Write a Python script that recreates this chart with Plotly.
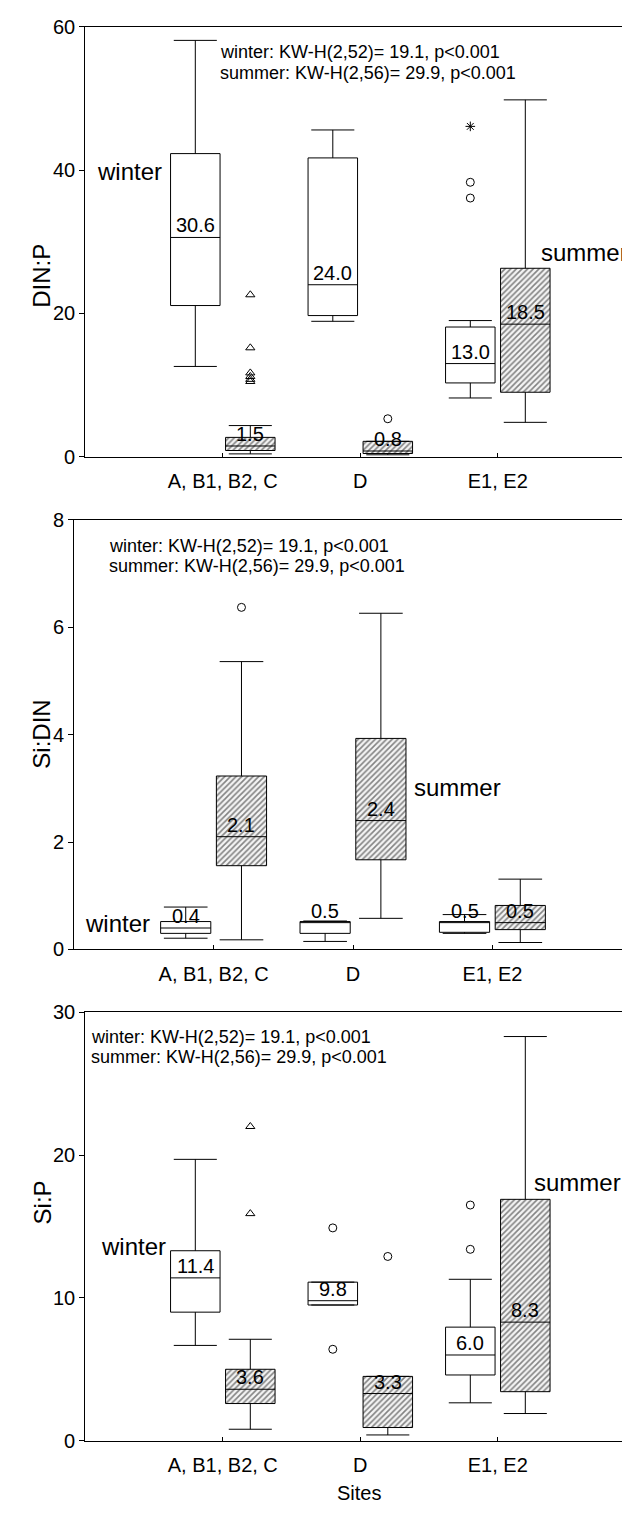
import plotly.graph_objects as go

FONT = "Arial, Liberation Sans, sans-serif"
W, H = 622, 1517

sites = ["A, B1, B2, C", "D", "E1, E2"]
site_pos = [1, 2, 3]

# ---- DIN:P ----
dinp_w_low = [12.6, 18.9, 8.2]
dinp_w_q1 = [21.1, 19.7, 10.3]
dinp_w_med = [30.6, 24.0, 13.0]
dinp_w_q3 = [42.3, 41.7, 18.1]
dinp_w_high = [58.1, 45.6, 19.0]
dinp_s_low = [0.4, 0.27, 4.8]
dinp_s_q1 = [0.87, 0.45, 9.0]
dinp_s_med = [1.5, 0.8, 18.5]
dinp_s_q3 = [2.7, 2.15, 26.3]
dinp_s_high = [4.35, 2.15, 49.8]
dinp_out_site = [1, 1, 1, 1, 1, 1, 2, 3, 3, 3]
dinp_out_season = ["summer"] * 7 + ["winter"] * 3
dinp_out_value = [22.6, 15.2, 11.7, 11.2, 10.8, 10.5, 5.3, 38.3, 36.1, 46.1]
dinp_out_kind = ["flag"] * 6 + ["outlier", "outlier", "outlier", "extreme"]

# ---- Si:DIN ----
sidin_w_low = [0.21, 0.15, 0.30]
sidin_w_q1 = [0.30, 0.30, 0.32]
sidin_w_med = [0.4, 0.5, 0.5]
sidin_w_q3 = [0.52, 0.52, 0.52]
sidin_w_high = [0.79, 0.53, 0.65]
sidin_s_low = [0.18, 0.58, 0.13]
sidin_s_q1 = [1.56, 1.67, 0.37]
sidin_s_med = [2.1, 2.4, 0.5]
sidin_s_q3 = [3.23, 3.93, 0.82]
sidin_s_high = [5.36, 6.26, 1.31]
sidin_out_site = [1]
sidin_out_season = ["summer"]
sidin_out_value = [6.37]
sidin_out_kind = ["outlier"]

# ---- Si:P ----
sip_w_low = [6.67, 9.5, 2.65]
sip_w_q1 = [9.0, 9.5, 4.6]
sip_w_med = [11.4, 9.8, 6.0]
sip_w_q3 = [13.3, 11.1, 7.95]
sip_w_high = [19.7, 11.1, 11.3]
sip_s_low = [0.8, 0.4, 1.9]
sip_s_q1 = [2.6, 0.92, 3.43]
sip_s_med = [3.6, 3.3, 8.3]
sip_s_q3 = [5.0, 4.5, 16.9]
sip_s_high = [7.1, 4.5, 28.3]
sip_out_site = [1, 1, 2, 2, 2, 3, 3]
sip_out_season = ["summer", "summer", "winter", "winter", "summer", "winter", "winter"]
sip_out_value = [22.0, 15.9, 14.9, 6.4, 12.9, 16.5, 13.4]
sip_out_kind = ["flag", "flag", "outlier", "outlier", "outlier", "outlier", "outlier"]

kw_winter = "winter: KW-H(2,52)= 19.1, p<0.001"
kw_summer = "summer: KW-H(2,56)= 29.9, p<0.001"

panels = [
    dict(title="DIN:P", yrange=[0, 60], dtick=20,
         w=(dinp_w_low, dinp_w_q1, dinp_w_med, dinp_w_q3, dinp_w_high),
         s=(dinp_s_low, dinp_s_q1, dinp_s_med, dinp_s_q3, dinp_s_high),
         out=(dinp_out_site, dinp_out_season, dinp_out_value, dinp_out_kind),
         left=85.3, step=137.5, top=16.0, bottom=452.3,
         winter_at=(0.325, 39.8), summer_at=(3.30, 28.5),
         kw_at=(0.965, 56.5, 53.6)),
    dict(title="Si:DIN", yrange=[0, 8], dtick=2,
         w=(sidin_w_low, sidin_w_q1, sidin_w_med, sidin_w_q3, sidin_w_high),
         s=(sidin_s_low, sidin_s_q1, sidin_s_med, sidin_s_q3, sidin_s_high),
         out=(sidin_out_site, sidin_out_season, sidin_out_value, sidin_out_kind),
         left=74.2, step=139.4, top=516.3, bottom=952.3,
         winter_at=(0.314, 0.49), summer_at=(2.42, 3.01),
         kw_at=(0.235, 7.51, 7.14)),
    dict(title="Si:P", yrange=[0, 30], dtick=10,
         w=(sip_w_low, sip_w_q1, sip_w_med, sip_w_q3, sip_w_high),
         s=(sip_s_low, sip_s_q1, sip_s_med, sip_s_q3, sip_s_high),
         out=(sip_out_site, sip_out_season, sip_out_value, sip_out_kind),
         left=85.3, step=137.5, top=1016.0, bottom=1450.7,
         winter_at=(0.354, 13.6), summer_at=(3.25, 18.1),
         kw_at=(0.027, 28.3, 26.9)),
]

OFFSET = {"winter": -0.2, "summer": 0.2}
BOX_W = 0.36
SYMBOL = {"outlier": "circle-open", "extreme": "asterisk-open", "flag": "triangle-up-open"}

fig = go.Figure()
layout = dict(width=W, height=H, margin=dict(l=0, r=0, t=0, b=0),
              paper_bgcolor="white", plot_bgcolor="white", showlegend=False,
              font=dict(family=FONT, size=20, color="black"))
annotations = []

for i, p in enumerate(panels):
    n = "" if i == 0 else str(i + 1)
    xa, ya = "x" + n, "y" + n
    xdom = [p["left"] / W, 1.0]
    ydom = [(H - p["bottom"]) / H, (H - p["top"]) / H]
    xmax = (W - p["left"]) / p["step"]

    layout["xaxis" + n] = dict(domain=xdom, range=[0, xmax], anchor=ya,
                               tickvals=site_pos, ticktext=sites,
                               ticks="inside", ticklen=4, tickcolor="black",
                               showline=True, linecolor="black", linewidth=1.3,
                               mirror=True, showgrid=False, zeroline=False,
                               tickfont=dict(size=20), ticklabelstandoff=6)
    layout["yaxis" + n] = dict(domain=ydom, range=p["yrange"], anchor=xa,
                               dtick=p["dtick"], ticks="outside", ticklen=5,
                               tickcolor="black", showline=True, linecolor="black",
                               linewidth=1.3, showgrid=False, zeroline=False,
                               tickfont=dict(size=20))

    for season, stats in (("winter", p["w"]), ("summer", p["s"])):
        low, q1, med, q3, high = stats
        xs = [c + OFFSET[season] for c in site_pos]
        if season == "summer":
            # hatched fill of the summer boxes
            fig.add_trace(go.Bar(
                x=xs, y=[b - a for a, b in zip(q1, q3)], base=q1, width=BOX_W,
                xaxis=xa, yaxis=ya, hoverinfo="skip",
                marker=dict(color="white", line=dict(width=0),
                            pattern=dict(shape="/", fgcolor="#111111", bgcolor="#f4f4f4",
                                         size=4, solidity=0.4))))
        fig.add_trace(go.Box(
            x=xs, q1=q1, median=med, q3=q3, lowerfence=low, upperfence=high,
            width=BOX_W, whiskerwidth=0.87, xaxis=xa, yaxis=ya,
            fillcolor="rgba(255,255,255,1)" if season == "winter" else "rgba(0,0,0,0)",
            line=dict(color="black", width=1), boxpoints=False, hoverinfo="skip"))
        for x, m in zip(xs, med):
            annotations.append(dict(x=x, y=m, xref=xa, yref=ya, text=f"{m:.1f}",
                                    showarrow=False, yanchor="bottom",
                                    font=dict(size=20), yshift=-1))

    o_site, o_season, o_val, o_kind = p["out"]
    for kind, sym in SYMBOL.items():
        idx = [k for k, kk in enumerate(o_kind) if kk == kind]
        if not idx:
            continue
        fig.add_trace(go.Scatter(
            x=[o_site[k] + OFFSET[o_season[k]] for k in idx],
            y=[o_val[k] for k in idx], mode="markers", xaxis=xa, yaxis=ya,
            hoverinfo="skip",
            marker=dict(symbol=sym, size=8, color="black",
                        line=dict(width=1, color="black"))))

    wx, wy = p["winter_at"]
    sx, sy = p["summer_at"]
    annotations.append(dict(x=wx, y=wy, xref=xa, yref=ya, text="winter",
                            showarrow=False, font=dict(size=24)))
    annotations.append(dict(x=sx, y=sy, xref=xa, yref=ya, text="summer",
                            showarrow=False, xanchor="left", font=dict(size=24)))
    kx, ky1, ky2 = p["kw_at"]
    annotations.append(dict(x=kx, y=ky1, xref=xa, yref=ya, text=kw_winter,
                            showarrow=False, xanchor="left", font=dict(size=18)))
    annotations.append(dict(x=kx, y=ky2, xref=xa, yref=ya, text=kw_summer,
                            showarrow=False, xanchor="left", font=dict(size=18)))
    annotations.append(dict(x=26.5 / W, y=(H - (p["top"] + p["bottom"]) / 2) / H,
                            xref="paper", yref="paper", text=p["title"],
                            textangle=-90, showarrow=False, font=dict(size=24)))

annotations.append(dict(x=359 / W, y=0, xref="paper", yref="paper",
                        text="Sites", showarrow=False, yanchor="bottom",
                        font=dict(size=20)))

layout["annotations"] = annotations
layout["boxmode"] = "overlay"
layout["barmode"] = "overlay"
fig.update_layout(**layout)
fig.write_html("out.html")
